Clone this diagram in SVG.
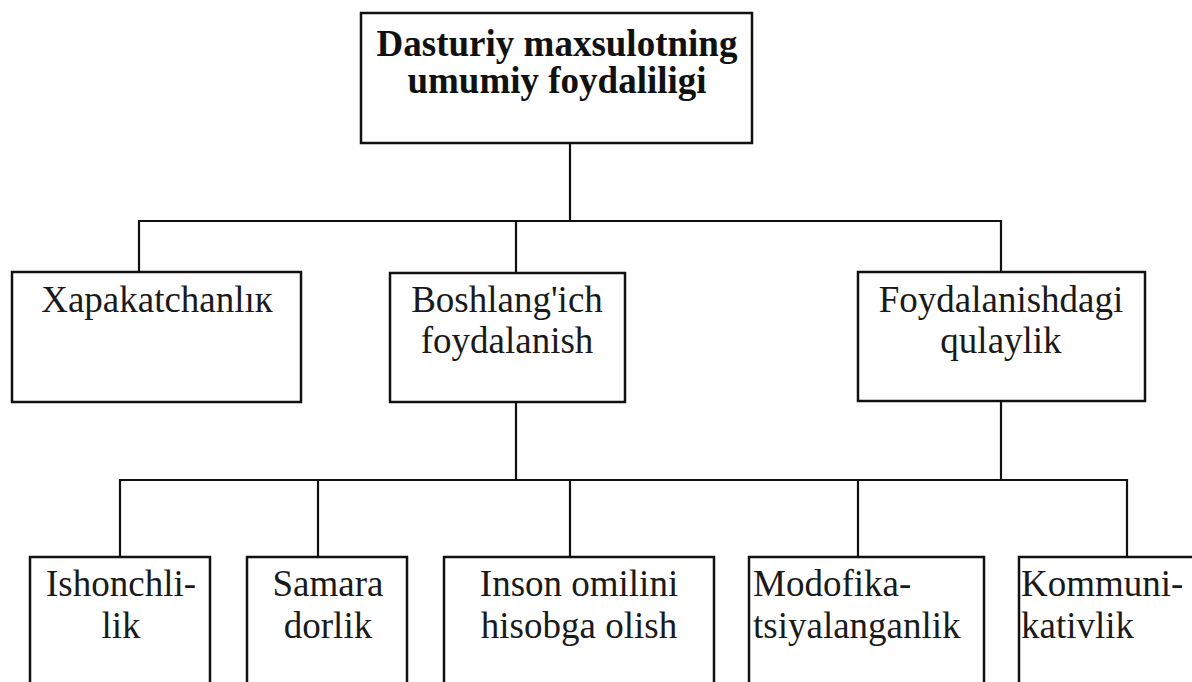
<svg xmlns="http://www.w3.org/2000/svg" width="1192" height="682" viewBox="0 0 1192 682">
  <style>
    .box { fill: #ffffff; stroke: #111111; stroke-width: 2.5; }
    .link { fill: none; stroke: #111111; stroke-width: 2.2; }
    .lbl { font-family: "Liberation Serif", "Times New Roman", serif; font-size: 37px; fill: #1a1a1a; }
    .mid { text-anchor: middle; }
    .title { font-family: "Liberation Serif", "Times New Roman", serif; font-size: 37px; font-weight: bold; fill: #111111; text-anchor: middle; }
  </style>
  <rect width="1192" height="682" fill="#ffffff"/>

  <!-- connectors -->
  <g id="connectors" class="link">
    <path d="M570 143 V221"/>
    <path d="M139 272 V221 H1001 V272"/>
    <path d="M516 221 V273"/>
    <path d="M516 402 V480"/>
    <path d="M1001 401 V480"/>
    <path d="M120 557 V480 H1127 V557"/>
    <path d="M318 480 V557"/>
    <path d="M570 480 V557"/>
    <path d="M858 480 V557"/>
  </g>

  <!-- root -->
  <g id="node-root">
    <rect class="box" x="361" y="13" width="391" height="130"/>
    <text class="title" x="557" y="56">Dasturiy maxsulotning</text>
    <text class="title" x="557" y="93">umumiy foydaliligi</text>
  </g>

  <!-- second level -->
  <g id="node-xarakat">
    <rect class="box" x="12" y="272" width="289" height="130"/>
    <text class="lbl mid" x="157" y="312">Xapakatchanlıк</text>
  </g>
  <g id="node-boshlang">
    <rect class="box" x="390" y="273" width="235" height="129"/>
    <text class="lbl mid" x="507" y="312">Boshlang'ich</text>
    <text class="lbl mid" x="507" y="353">foydalanish</text>
  </g>
  <g id="node-foydalanish">
    <rect class="box" x="858" y="272" width="287" height="129"/>
    <text class="lbl mid" x="1001" y="312">Foydalanishdagi</text>
    <text class="lbl mid" x="1001" y="353">qulaylik</text>
  </g>

  <!-- third level -->
  <g id="node-ishonch">
    <rect class="box" x="30" y="557" width="180" height="140"/>
    <text class="lbl mid" x="121" y="596">Ishonchli-</text>
    <text class="lbl mid" x="121" y="638">lik</text>
  </g>
  <g id="node-samara">
    <rect class="box" x="247" y="557" width="160" height="140"/>
    <text class="lbl mid" x="328" y="596">Samara</text>
    <text class="lbl mid" x="328" y="638">dorlik</text>
  </g>
  <g id="node-inson">
    <rect class="box" x="444" y="557" width="270" height="140"/>
    <text class="lbl mid" x="579" y="596">Inson omilini</text>
    <text class="lbl mid" x="579" y="638">hisobga olish</text>
  </g>
  <g id="node-modofika">
    <rect class="box" x="749" y="557" width="235" height="140"/>
    <text class="lbl" x="753" y="596">Modofika-</text>
    <text class="lbl" x="753" y="638">tsiyalanganlik</text>
  </g>
  <g id="node-kommuni">
    <rect class="box" x="1019" y="557" width="180" height="140"/>
    <text class="lbl" x="1021" y="596">Kommuni-</text>
    <text class="lbl" x="1021" y="638">kativlik</text>
  </g>
</svg>
